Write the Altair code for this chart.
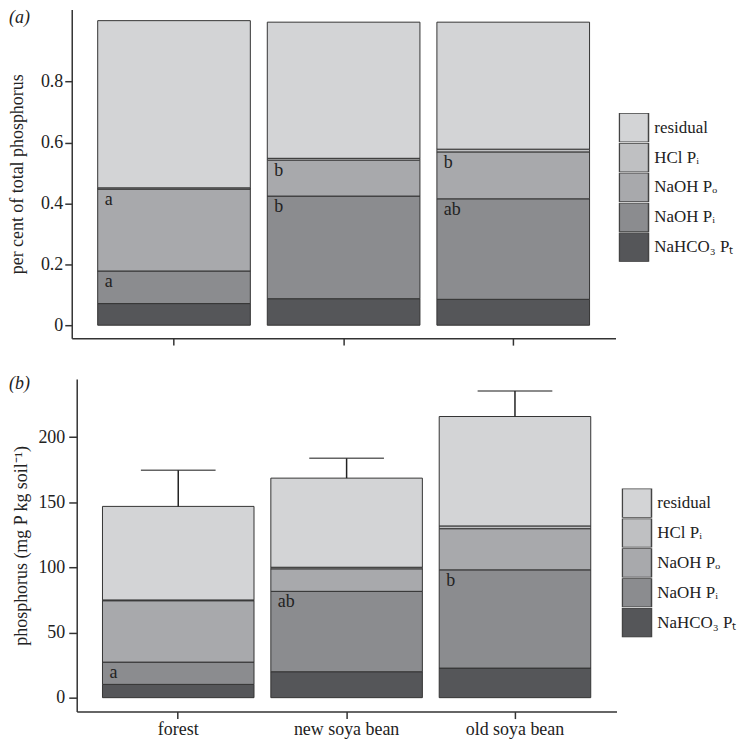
import altair as alt
import pandas as pd

FONT = "Liberation Serif"
INK = "#222222"

sites = ["forest", "new soya bean", "old soya bean"]
# legend order (top to bottom)
fractions = ["residual", "HCl Pᵢ", "NaOH Pₒ", "NaOH Pᵢ", "NaHCO₃ Pₜ"]
colors = ["#d3d4d6", "#bfc0c2", "#a8a9ac", "#8b8c8f", "#555659"]
# stacking order from bottom
stack_order = ["NaHCO₃ Pₜ", "NaOH Pᵢ", "NaOH Pₒ", "HCl Pᵢ", "residual"]

# (a) proportion of total phosphorus, per site
prop_nahco3 = [0.071, 0.087, 0.085]
prop_naoh_pi = [0.107, 0.337, 0.330]
prop_naoh_po = [0.269, 0.118, 0.154]
prop_hcl_pi = [0.004, 0.006, 0.009]
prop_residual = [0.549, 0.447, 0.417]

# (b) phosphorus, mg P kg soil^-1, per site
conc_nahco3 = [10.2, 19.9, 22.7]
conc_naoh_pi = [17.1, 61.7, 75.4]
conc_naoh_po = [47.1, 17.3, 31.6]
conc_hcl_pi = [0.6, 1.2, 2.1]
conc_residual = [71.8, 68.4, 84.0]
conc_error = [27.8, 15.2, 19.6]

# significance letters
letters_a_site = ["forest", "forest", "new soya bean", "new soya bean", "old soya bean", "old soya bean"]
letters_a_frac = ["NaOH Pₒ", "NaOH Pᵢ", "NaOH Pₒ", "NaOH Pᵢ", "NaOH Pₒ", "NaOH Pᵢ"]
letters_a_text = ["a", "a", "b", "b", "b", "ab"]
letters_b_site = ["forest", "new soya bean", "old soya bean"]
letters_b_frac = ["NaOH Pᵢ", "NaOH Pᵢ", "NaOH Pᵢ"]
letters_b_text = ["a", "ab", "b"]

panel_labels = ["(a)", "(b)"]
y_titles = ["per cent of total phosphorus", "phosphorus (mg P kg soil⁻¹)"]
y_ticks_a = [0, 0.2, 0.4, 0.6, 0.8]
y_ticks_b = [0, 50, 100, 150, 200]


def build_long(series):
    rows = []
    for i, s in enumerate(sites):
        cum = 0.0
        for frac in stack_order:
            v = series[frac][i]
            rows.append({"site": s, "fraction": frac, "value": v, "y0": cum, "y1": cum + v})
            cum += v
    return pd.DataFrame(rows)


df_a = build_long({"NaHCO₃ Pₜ": prop_nahco3, "NaOH Pᵢ": prop_naoh_pi, "NaOH Pₒ": prop_naoh_po,
                   "HCl Pᵢ": prop_hcl_pi, "residual": prop_residual})
df_b = build_long({"NaHCO₃ Pₜ": conc_nahco3, "NaOH Pᵢ": conc_naoh_pi, "NaOH Pₒ": conc_naoh_po,
                   "HCl Pᵢ": conc_hcl_pi, "residual": conc_residual})


def letters_df(df, site_list, frac_list, text_list):
    rows = []
    for s, f, t in zip(site_list, frac_list, text_list):
        top = df[(df.site == s) & (df.fraction == f)]["y1"].iloc[0]
        rows.append({"site": s, "ytop": top, "letter": t})
    return pd.DataFrame(rows)


lab_a = letters_df(df_a, letters_a_site, letters_a_frac, letters_a_text)
lab_b = letters_df(df_b, letters_b_site, letters_b_frac, letters_b_text)

totals_b = df_b.groupby("site", sort=False)["y1"].max().reindex(sites).tolist()
err_df = pd.DataFrame({"site": sites, "total": totals_b,
                       "errtop": [t + e for t, e in zip(totals_b, conc_error)]})


def panel(df, labs, ydomain, yticks, yfmt, ytitle, width, height, xrange, yoffset, show_xlabels,
          plabel, plabel_xy, legend_xy, tick_size, label_pad, title_pad, err=None):
    xscale = alt.Scale(paddingInner=0.1, paddingOuter=0.153, range=xrange)
    xaxis = alt.Axis(title=None, labels=show_xlabels, labelFont=FONT, labelFontSize=18,
                     labelColor=INK, labelPadding=2, tickSize=7, tickColor="#333333", tickWidth=1.5,
                     domainColor="#333333", domainWidth=1.5, grid=False, labelAngle=0)
    yaxis = alt.Axis(title=ytitle, values=yticks, format=yfmt, labelFont=FONT, labelFontSize=18,
                     labelColor=INK, titleFont=FONT, titleFontSize=18, titleFontWeight="normal",
                     titleColor=INK, titlePadding=title_pad, tickSize=tick_size, tickColor="#333333",
                     tickWidth=1.5, domainColor="#333333", domainWidth=1.5, grid=False,
                     labelPadding=label_pad, offset=yoffset)
    bars = alt.Chart(df).mark_bar(stroke="#333333", strokeWidth=1).encode(
        x=alt.X("site:N", sort=sites, scale=xscale, axis=xaxis),
        y=alt.Y("y0:Q", scale=alt.Scale(domain=ydomain, nice=False, zero=False), axis=yaxis),
        y2="y1:Q",
        color=alt.Color("fraction:N", scale=alt.Scale(domain=fractions, range=colors),
                        legend=alt.Legend(title=None, orient="none", legendX=legend_xy[0],
                                          legendY=legend_xy[1], symbolType="square", symbolSize=858,
                                          symbolStrokeColor="#444444", symbolStrokeWidth=1.5,
                                          symbolOpacity=1, rowPadding=0, clipHeight=29.3,
                                          labelOffset=5, labelFont=FONT, labelFontSize=17,
                                          labelColor=INK, padding=0)),
    )
    texts = alt.Chart(labs).mark_text(align="left", baseline="alphabetic", dx=7, dy=16,
                                      font=FONT, fontSize=18, color=INK).encode(
        x=alt.X("site:N", sort=sites, bandPosition=0),
        y="ytop:Q",
        text="letter:N",
    )
    layers = [bars, texts]
    if err is not None:
        rule = alt.Chart(err).mark_rule(color=INK, strokeWidth=1.5).encode(
            x=alt.X("site:N", sort=sites), y="total:Q", y2="errtop:Q")
        cap = alt.Chart(err).mark_tick(color=INK, thickness=1.5, size=75).encode(
            x=alt.X("site:N", sort=sites), y="errtop:Q")
        layers += [rule, cap]
    ptxt = alt.Chart(pd.DataFrame({"t": [plabel]})).mark_text(
        align="left", baseline="top", font=FONT, fontSize=18, fontStyle="italic", color=INK).encode(
        x=alt.value(plabel_xy[0]), y=alt.value(plabel_xy[1]), text="t:N")
    layers.append(ptxt)
    return alt.layer(*layers).properties(width=width, height=height)


top = panel(df_a, lab_a, [-0.0425, 1.0366], y_ticks_a, "~g", y_titles[0], 541, 330, [-5, 541], 5,
            False, panel_labels[0], (-68, 0), (544, 104), 7, 2, 14)
bottom = panel(df_b, lab_b, [-10.7, 244.6], y_ticks_b, "d", y_titles[1], 542, 334, [0, 542], 0,
               True, panel_labels[1], (-68, -4), (547, 110), 8, 4, 7, err=err_df)

chart = alt.concat(top, bottom, columns=1, spacing=29).resolve_scale(
    color="independent").properties(padding=0).configure_view(stroke=None)

chart.save("out.html", embed_options={"renderer": "svg", "actions": False})
